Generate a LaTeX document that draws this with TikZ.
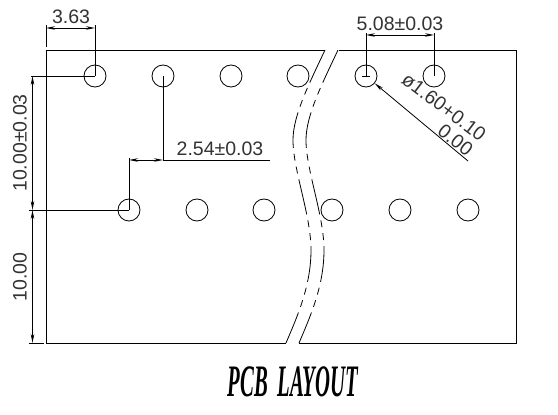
\documentclass[tikz,border=0pt]{standalone}
\usepackage{fontspec}
\setmainfont{Liberation Sans}
\newfontfamily\titlefont{Liberation Serif}
\usetikzlibrary{arrows.meta}

\begin{document}
\begin{tikzpicture}[x=1pt,y=-1pt,line width=.8pt,
              hole/.style = {shape=circle, draw, minimum size=22pt, inner sep=0pt},
              dim/.style = {font=\fontsize{19.5}{19.5}\selectfont, inner sep=0pt, text=black!80},
              arrow/.style = {{Stealth[length=9pt,width=3.5pt]}-{Stealth[length=9pt,width=3.5pt]}},
              leader/.style = {{Stealth[length=9pt,width=3.5pt]}-}]
              \useasboundingbox (0,0) rectangle (558,415);
              % holes
              \foreach \name/\x in {a/95,b/163,c/231,d/298,e/366,f/434}
                \node[hole] (\name) at (\x,76) {};
              \foreach \name/\x in {g/129,h/197,i/264,j/332,k/400,l/468}
                \node[hole] (\name) at (\x,210) {};
              % board
              \draw (325,50) -- (46,50) -- (46,343) -- (286,343);
              \draw (339,50) -- (516,50) -- (516,343) -- (299,343);
              % break lines
              \foreach \xs in {0,13}
                \draw[xshift=\xs pt,dash pattern=on 36pt off 6pt on 7pt off 6pt on 7pt off 6pt]
                  (325,50) .. controls (310,82) and (293,115) .. (293,140)
                  .. controls (293,170) and (311,215) .. (311,250)
                  .. controls (311,285) and (298,315) .. (286,343);
              % 3.63
              \coordinate (p1) at (46,25);
              \coordinate (p2) at (46,47);
              \coordinate (p3) at (95,25);
              \draw (p1) -- (p2);
              \draw (p3) -- (a.center);
              \draw[arrow] (46,28) -- (95,28);
              \node[dim] (t1) at (71,17) {3.63};
              % 10.00 +- 0.03
              \coordinate (q1) at (31,76);
              \coordinate (q2) at (29,210);
              \draw (q1) -- (a.center);
              \draw (q2) -- (g.center);
              \draw[arrow] (32.5,76) -- (32.5,210);
              \node[dim,rotate=90] (t2) at (20,143) {10.00±0.03};
              % 10.00
              \coordinate (q3) at (29,343);
              \coordinate (q4) at (44,343);
              \draw (q3) -- (q4);
              \draw[arrow] (32.5,210) -- (32.5,343);
              \node[dim,rotate=90] (t3) at (20,277) {10.00};
              % 2.54 +- 0.03
              \coordinate (r1) at (163,160);
              \coordinate (r2) at (129,158);
              \coordinate (r3) at (270,160);
              \draw (b.center) -- (r1) -- (r3);
              \draw (r2) -- (g.center);
              \draw[arrow] (129,160) -- (r1);
              \node[dim] (t4) at (220,149) {2.54±0.03};
              % 5.08 +- 0.03
              \coordinate (s1) at (366,33);
              \coordinate (s2) at (434,33);
              \draw (s1) -- (e.center);
              \draw (s2) -- (f.center);
              \draw[arrow] (366,35) -- (434,35);
              \node[dim] (t5) at (400,24) {5.08±0.03};
              \draw ([xshift=-4pt]e.center) -- ([xshift=4pt]e.center);
              % hole diameter
              \coordinate (u1) at (468,161);
              \draw[leader] (e.-40) -- (u1);
              \node[dim,rotate=-37] (t6) at (444,107) {ø1.60+0.10};
              \node[dim,rotate=-38] (t7) at (455.5,140) {0.00};
              % title
              \node[inner sep=0pt] (title) at (293,382)
                {\scalebox{.46}[1]{\fontsize{45}{45}\titlefont\bfseries\itshape PCB\hspace{.45em}LAYOUT}};
            \end{tikzpicture}
\end{document}
